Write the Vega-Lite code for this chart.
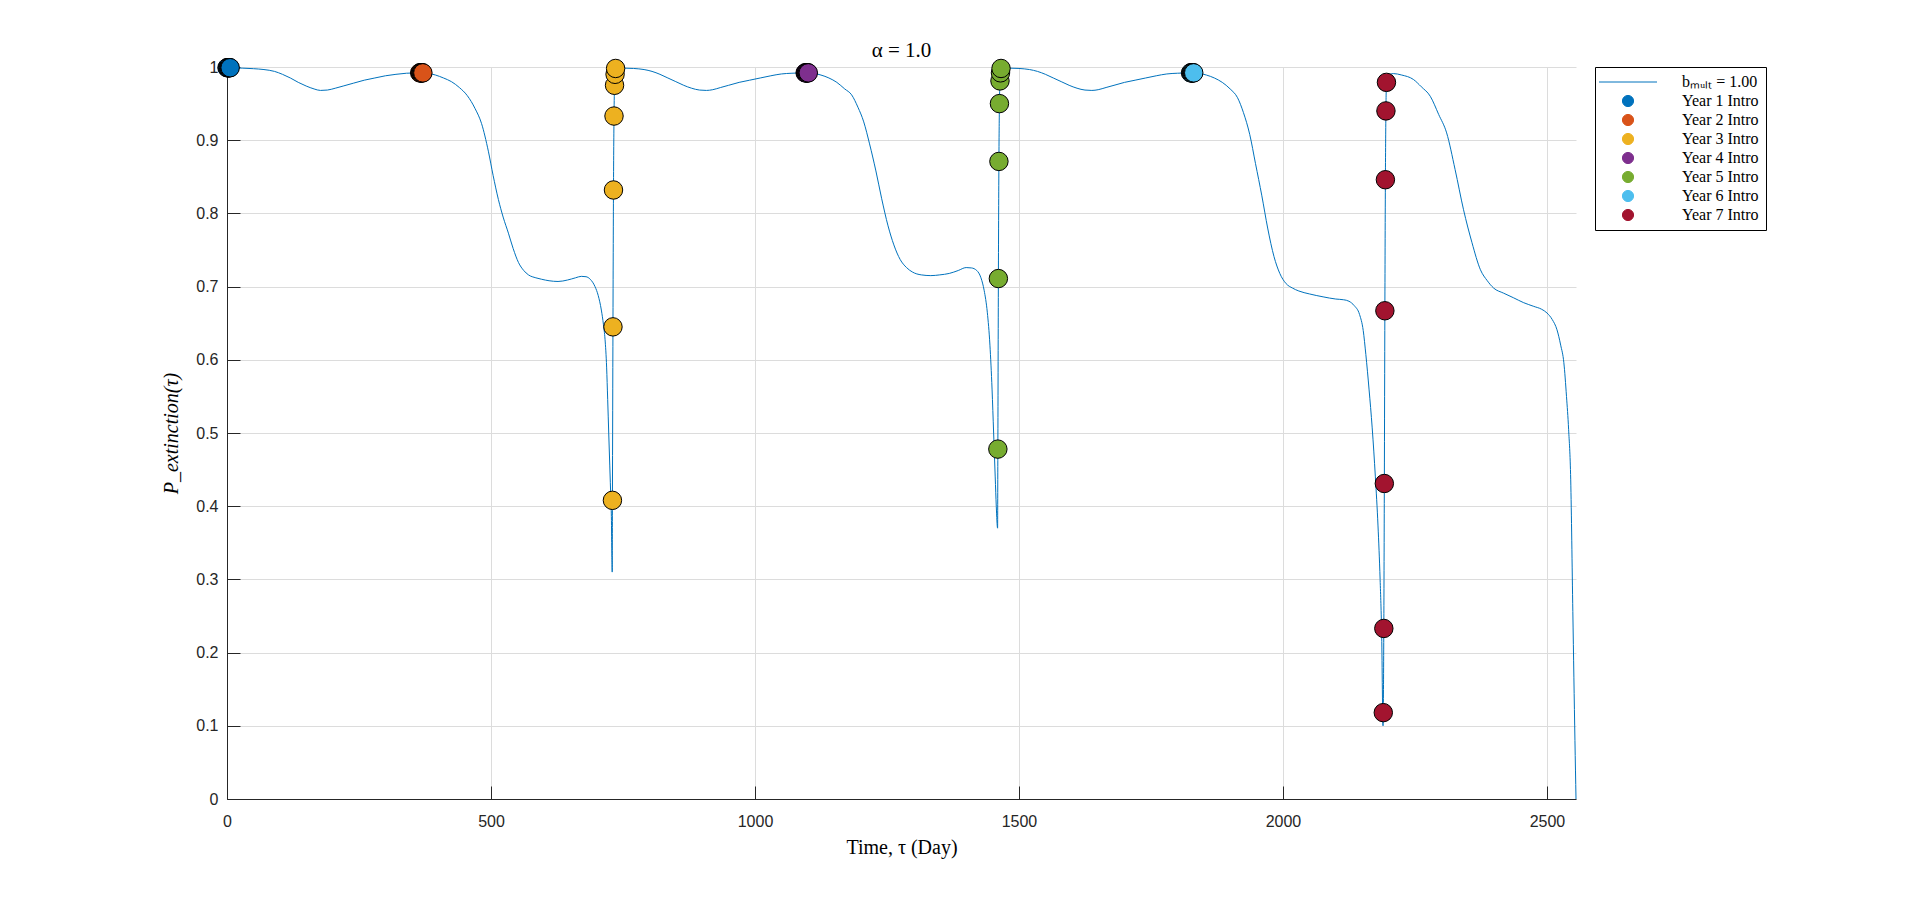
{
  "$schema": "https://vega.github.io/schema/vega-lite/v6.json",
  "autosize": {"type": "none"},
  "width": 1349,
  "height": 732,
  "padding": {"left": 227, "top": 67, "right": 344, "bottom": 100},
  "background": "white",
  "view": {"stroke": null},
  "title": {"text": "α = 1.0", "font": "Liberation Serif", "fontSize": 21, "fontWeight": "normal", "color": "black", "anchor": "middle", "offset": -4},
  "datasets": {
    "curve": [
      {"t":0,"p":0.999},{"t":15,"p":0.9988},{"t":30,"p":0.9984},{"t":50,"p":0.9977},{"t":70,"p":0.9965},{"t":90,"p":0.994},{"t":105,"p":0.990},{"t":120,"p":0.985},{"t":135,"p":0.979},{"t":150,"p":0.974},{"t":165,"p":0.970},{"t":177,"p":0.968},{"t":190,"p":0.9685},{"t":205,"p":0.971},{"t":220,"p":0.974},{"t":240,"p":0.978},{"t":260,"p":0.982},{"t":280,"p":0.985},{"t":300,"p":0.988},{"t":320,"p":0.990},{"t":340,"p":0.9915},{"t":360,"p":0.992},{"t":371,"p":0.992},
      {"t":380,"p":0.9915},{"t":395,"p":0.989},{"t":410,"p":0.985},{"t":425,"p":0.980},{"t":440,"p":0.972},{"t":455,"p":0.961},{"t":470,"p":0.943},{"t":482,"p":0.923},{"t":495,"p":0.885},{"t":504,"p":0.852},{"t":514,"p":0.819},{"t":523,"p":0.795},{"t":533,"p":0.773},{"t":542,"p":0.752},{"t":552,"p":0.733},{"t":562,"p":0.722},{"t":571,"p":0.716},{"t":585,"p":0.712},{"t":596,"p":0.710},{"t":610,"p":0.708},{"t":627,"p":0.707},{"t":645,"p":0.709},{"t":660,"p":0.712},{"t":671,"p":0.714},{"t":680,"p":0.7135},{"t":688,"p":0.710},{"t":697,"p":0.700},{"t":703,"p":0.688},{"t":709,"p":0.668},{"t":713,"p":0.648},{"t":716,"p":0.628},{"t":719,"p":0.590},{"t":721,"p":0.546},{"t":723,"p":0.50},{"t":725,"p":0.455},{"t":727,"p":0.41},{"t":728,"p":0.386},{"t":729,"p":0.33},{"t":729.6,"p":0.31},
      {"t":730,"p":0.408},{"t":731,"p":0.645},{"t":732,"p":0.832},{"t":733,"p":0.933},{"t":734,"p":0.975},{"t":735,"p":0.990},{"t":736,"p":0.998},
      {"t":750,"p":0.9985},{"t":770,"p":0.998},{"t":790,"p":0.9965},{"t":805,"p":0.994},{"t":820,"p":0.990},{"t":835,"p":0.985},{"t":850,"p":0.980},{"t":865,"p":0.975},{"t":880,"p":0.971},{"t":895,"p":0.9685},{"t":908,"p":0.968},{"t":920,"p":0.969},{"t":935,"p":0.972},{"t":950,"p":0.975},{"t":970,"p":0.979},{"t":990,"p":0.982},{"t":1010,"p":0.985},{"t":1030,"p":0.988},{"t":1050,"p":0.9905},{"t":1070,"p":0.9915},{"t":1090,"p":0.992},{"t":1101,"p":0.992},
      {"t":1110,"p":0.9915},{"t":1125,"p":0.989},{"t":1140,"p":0.985},{"t":1155,"p":0.979},{"t":1170,"p":0.970},{"t":1183,"p":0.962},{"t":1195,"p":0.945},{"t":1206,"p":0.925},{"t":1217,"p":0.895},{"t":1229,"p":0.858},{"t":1240,"p":0.82},{"t":1252,"p":0.783},{"t":1263,"p":0.757},{"t":1275,"p":0.737},{"t":1287,"p":0.726},{"t":1298,"p":0.72},{"t":1315,"p":0.716},{"t":1333,"p":0.715},{"t":1350,"p":0.716},{"t":1368,"p":0.718},{"t":1385,"p":0.722},{"t":1400,"p":0.726},{"t":1410,"p":0.7255},{"t":1420,"p":0.722},{"t":1428,"p":0.712},{"t":1434,"p":0.695},{"t":1440,"p":0.665},{"t":1445,"p":0.62},{"t":1449,"p":0.56},{"t":1452,"p":0.50},{"t":1455,"p":0.44},{"t":1457,"p":0.40},{"t":1459.5,"p":0.37},
      {"t":1460,"p":0.478},{"t":1461,"p":0.711},{"t":1462,"p":0.871},{"t":1463,"p":0.950},{"t":1464,"p":0.981},{"t":1465,"p":0.992},{"t":1466,"p":0.998},
      {"t":1480,"p":0.9985},{"t":1500,"p":0.998},{"t":1520,"p":0.9965},{"t":1535,"p":0.994},{"t":1550,"p":0.990},{"t":1565,"p":0.985},{"t":1580,"p":0.980},{"t":1595,"p":0.975},{"t":1610,"p":0.971},{"t":1625,"p":0.9685},{"t":1638,"p":0.968},{"t":1650,"p":0.969},{"t":1665,"p":0.972},{"t":1680,"p":0.975},{"t":1700,"p":0.979},{"t":1720,"p":0.982},{"t":1740,"p":0.985},{"t":1760,"p":0.988},{"t":1780,"p":0.9905},{"t":1800,"p":0.9915},{"t":1820,"p":0.992},{"t":1831,"p":0.992},
      {"t":1840,"p":0.9915},{"t":1855,"p":0.989},{"t":1870,"p":0.985},{"t":1885,"p":0.979},{"t":1900,"p":0.970},{"t":1914,"p":0.958},{"t":1925,"p":0.938},{"t":1937,"p":0.908},{"t":1948,"p":0.868},{"t":1960,"p":0.824},{"t":1971,"p":0.78},{"t":1983,"p":0.741},{"t":1994,"p":0.718},{"t":2006,"p":0.704},{"t":2018,"p":0.698},{"t":2030,"p":0.694},{"t":2050,"p":0.69},{"t":2076,"p":0.686},{"t":2100,"p":0.683},{"t":2115,"p":0.682},{"t":2125,"p":0.680},{"t":2135,"p":0.674},{"t":2145,"p":0.662},{"t":2152,"p":0.64},{"t":2157,"p":0.607},{"t":2163,"p":0.56},{"t":2169,"p":0.507},{"t":2175,"p":0.44},{"t":2180,"p":0.373},{"t":2184,"p":0.30},{"t":2187,"p":0.222},{"t":2189.5,"p":0.10},
      {"t":2190,"p":0.118},{"t":2191,"p":0.233},{"t":2192,"p":0.431},{"t":2193,"p":0.667},{"t":2194,"p":0.846},{"t":2195,"p":0.940},{"t":2196,"p":0.979},
      {"t":2200,"p":0.989},{"t":2209,"p":0.991},{"t":2225,"p":0.989},{"t":2247,"p":0.983},{"t":2262,"p":0.973},{"t":2279,"p":0.960},{"t":2295,"p":0.935},{"t":2310,"p":0.91},{"t":2326,"p":0.86},{"t":2342,"p":0.805},{"t":2358,"p":0.76},{"t":2374,"p":0.723},{"t":2387,"p":0.708},{"t":2399,"p":0.698},{"t":2418,"p":0.691},{"t":2437,"p":0.6846},{"t":2456,"p":0.678},{"t":2475,"p":0.673},{"t":2490,"p":0.669},{"t":2500,"p":0.664},{"t":2510,"p":0.655},{"t":2519,"p":0.641},{"t":2526,"p":0.62},{"t":2532,"p":0.596},{"t":2537,"p":0.55},{"t":2541,"p":0.505},{"t":2545,"p":0.436},{"t":2549,"p":0.256},{"t":2553,"p":0.08},{"t":2555,"p":0.0}
    ],
    "pts": [
      {"s":"Year 1 Intro","t":0,"p":0.999},{"s":"Year 1 Intro","t":1,"p":0.999},{"s":"Year 1 Intro","t":2,"p":0.999},{"s":"Year 1 Intro","t":3,"p":0.999},{"s":"Year 1 Intro","t":4,"p":0.999},{"s":"Year 1 Intro","t":5,"p":0.999},{"s":"Year 1 Intro","t":6,"p":0.999},
      {"s":"Year 2 Intro","t":365,"p":0.992},{"s":"Year 2 Intro","t":366,"p":0.992},{"s":"Year 2 Intro","t":367,"p":0.992},{"s":"Year 2 Intro","t":368,"p":0.992},{"s":"Year 2 Intro","t":369,"p":0.992},{"s":"Year 2 Intro","t":370,"p":0.992},{"s":"Year 2 Intro","t":371,"p":0.992},
      {"s":"Year 3 Intro","t":730,"p":0.408},{"s":"Year 3 Intro","t":731,"p":0.645},{"s":"Year 3 Intro","t":732,"p":0.832},{"s":"Year 3 Intro","t":733,"p":0.933},{"s":"Year 3 Intro","t":734,"p":0.975},{"s":"Year 3 Intro","t":735,"p":0.990},{"s":"Year 3 Intro","t":736,"p":0.998},
      {"s":"Year 4 Intro","t":1095,"p":0.992},{"s":"Year 4 Intro","t":1096,"p":0.992},{"s":"Year 4 Intro","t":1097,"p":0.992},{"s":"Year 4 Intro","t":1098,"p":0.992},{"s":"Year 4 Intro","t":1099,"p":0.992},{"s":"Year 4 Intro","t":1100,"p":0.992},{"s":"Year 4 Intro","t":1101,"p":0.992},
      {"s":"Year 5 Intro","t":1460,"p":0.478},{"s":"Year 5 Intro","t":1461,"p":0.711},{"s":"Year 5 Intro","t":1462,"p":0.871},{"s":"Year 5 Intro","t":1463,"p":0.950},{"s":"Year 5 Intro","t":1464,"p":0.981},{"s":"Year 5 Intro","t":1465,"p":0.992},{"s":"Year 5 Intro","t":1466,"p":0.998},
      {"s":"Year 6 Intro","t":1825,"p":0.992},{"s":"Year 6 Intro","t":1826,"p":0.992},{"s":"Year 6 Intro","t":1827,"p":0.992},{"s":"Year 6 Intro","t":1828,"p":0.992},{"s":"Year 6 Intro","t":1829,"p":0.992},{"s":"Year 6 Intro","t":1830,"p":0.992},{"s":"Year 6 Intro","t":1831,"p":0.992},
      {"s":"Year 7 Intro","t":2190,"p":0.118},{"s":"Year 7 Intro","t":2191,"p":0.233},{"s":"Year 7 Intro","t":2192,"p":0.431},{"s":"Year 7 Intro","t":2193,"p":0.667},{"s":"Year 7 Intro","t":2194,"p":0.846},{"s":"Year 7 Intro","t":2195,"p":0.940},{"s":"Year 7 Intro","t":2196,"p":0.979}
    ]
  },
  "config": {
    "axis": {
      "domainColor": "#262626",
      "tickColor": "#262626",
      "labelColor": "#262626",
      "labelFont": "Liberation Sans",
      "labelFontSize": 16,
      "gridColor": "#dcdcdc",
      "gridWidth": 1,
      "tickSize": -13,
      "titleFont": "Liberation Serif",
      "titleFontSize": 20,
      "titleFontWeight": "normal",
      "titleColor": "black"
    },
    "legend": {
      "orient": "right",
      "offset": 17,
      "padding": 7,
      "strokeColor": "black",
      "fillColor": "white",
      "symbolType": "circle",
      "symbolSize": 3364,
      "symbolOffset": 18,
      "labelOffset": 46,
      "labelFont": "Liberation Serif",
      "labelFontSize": 16,
      "labelColor": "black",
      "rowPadding": 3
    }
  },
  "encoding": {
    "x": {
      "field": "t", "type": "quantitative",
      "scale": {"domain": [0, 2555], "nice": false, "zero": false},
      "axis": {"title": "Time, τ (Day)", "values": [0, 500, 1000, 1500, 2000, 2500], "format": "d", "labelPadding": 27, "titlePadding": 8, "labelFlush": false}
    },
    "y": {
      "field": "p", "type": "quantitative",
      "scale": {"domain": [0, 1], "nice": false},
      "axis": {"title": "P_extinction(τ)", "titleFontStyle": "italic", "values": [0, 0.1, 0.2, 0.3, 0.4, 0.5, 0.6, 0.7, 0.8, 0.9, 1], "format": "~g", "labelPadding": 22, "titlePadding": 14, "labelFlush": false}
    }
  },
  "layer": [
    {
      "data": {"name": "curve"},
      "transform": [{"calculate": "'bₘᵤₗₜ = 1.00'", "as": "s"}],
      "mark": {"type": "line", "strokeWidth": 1, "interpolate": "monotone"},
      "encoding": {
        "color": {
          "field": "s", "type": "nominal",
          "scale": {
            "domain": ["bₘᵤₗₜ = 1.00", "Year 1 Intro", "Year 2 Intro", "Year 3 Intro", "Year 4 Intro", "Year 5 Intro", "Year 6 Intro", "Year 7 Intro"],
            "range": ["#0072BD", "#0072BD", "#D95319", "#EDB120", "#7E2F8E", "#77AC30", "#4DBEEE", "#A2142F"]
          },
          "legend": {
            "title": null,
            "encode": {
              "symbols": {
                "update": {
                  "shape": {"signal": "datum.index === 0 ? 'stroke' : 'circle'"},
                  "size": {"signal": "datum.index === 0 ? 3364 : 125"},
                  "fill": {"signal": "datum.index === 1 ? '#0072BD' : datum.index === 2 ? '#D95319' : datum.index === 3 ? '#EDB120' : datum.index === 4 ? '#7E2F8E' : datum.index === 5 ? '#77AC30' : datum.index === 6 ? '#4DBEEE' : datum.index === 7 ? '#A2142F' : 'transparent'"},
                  "stroke": {"signal": "datum.index === 0 ? '#0072BD' : 'black'"},
                  "strokeWidth": {"value": 1}
                }
              }
            }
          }
        }
      }
    },
    {
      "data": {"name": "pts"},
      "mark": {"type": "point", "filled": true, "size": 340, "stroke": "black", "strokeWidth": 1, "opacity": 1},
      "encoding": {
        "color": {"field": "s", "type": "nominal", "legend": {"title": null}}
      }
    }
  ]
}
